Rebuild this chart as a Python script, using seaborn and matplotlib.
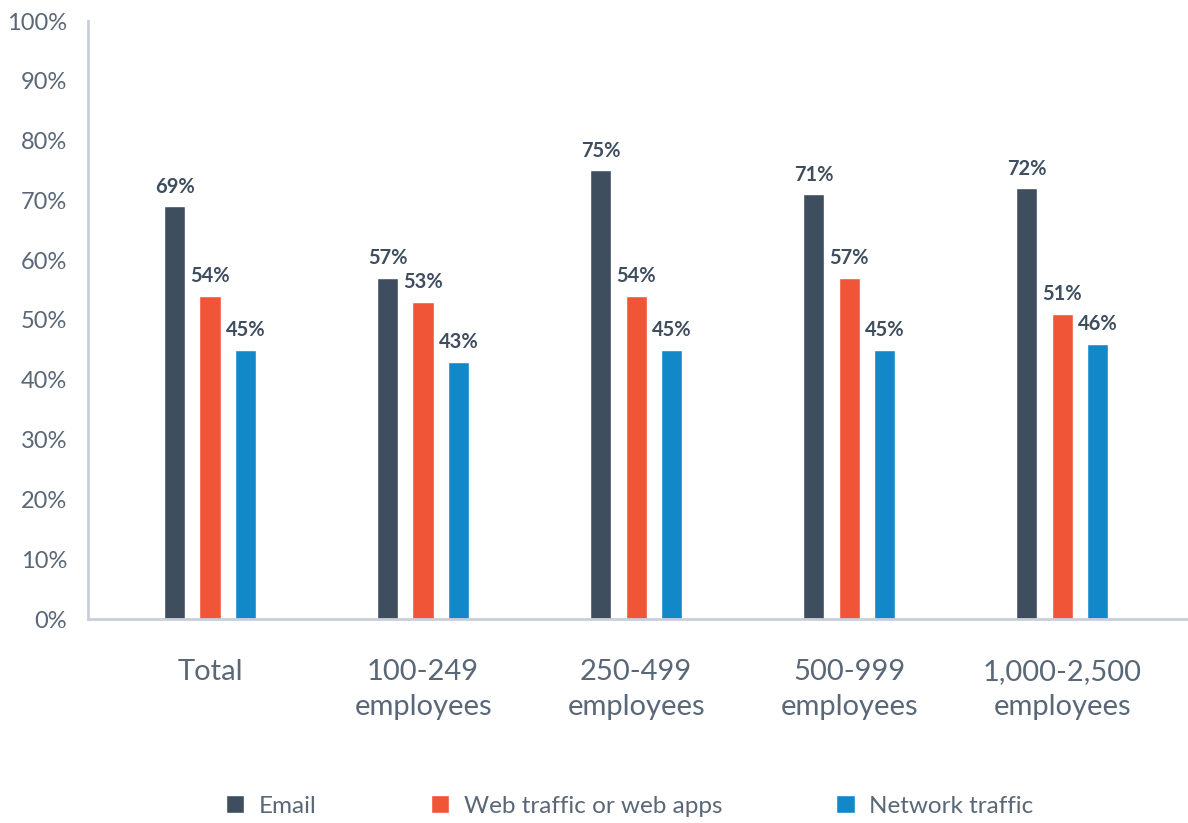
import matplotlib
matplotlib.use("Agg")
import matplotlib.pyplot as plt
import pandas as pd
import seaborn as sns

# Share of organisations per channel, by company size
categories = ["Total", "100-249\nemployees", "250-499\nemployees",
              "500-999\nemployees", "1,000-2,500\nemployees"]
series_names = ["Email", "Web traffic or web apps", "Network traffic"]
email = [69, 57, 75, 71, 72]
web = [54, 53, 54, 57, 51]
network = [45, 43, 45, 45, 46]
y_ticks = [0, 10, 20, 30, 40, 50, 60, 70, 80, 90, 100]

colors = ["#3f4e5e", "#f15537", "#1288c9"]
axis_color = "#c9cfd9"
text_color = "#5a6777"

sns.set_theme(style="white")
plt.rcParams["font.family"] = ["Lato", "DejaVu Sans"]

df = pd.DataFrame({
    "category": categories * 3,
    "series": [s for s in series_names for _ in categories],
    "value": email + web + network,
})

fig = plt.figure(figsize=(11.88, 8.23), dpi=100)
ax = fig.add_axes([88 / 1188, 204 / 823, 1 - 88 / 1188, 598 / 823])

sns.barplot(data=df, x="category", y="value", hue="series",
            order=categories, hue_order=series_names, palette=colors,
            width=0.50, gap=0.40, saturation=1, ax=ax, legend=True)

for cont in ax.containers:
    ax.bar_label(cont, fmt="%d%%", padding=7, fontsize=14.5, fontweight="bold",
                 color="#3f4e5e")

ax.set_ylim(0, 100)
ax.set_xlim(-0.573, 4.59)
ax.set_yticks(y_ticks)
ax.set_yticklabels([f"{t}%" for t in y_ticks])
ax.set_xlabel("")
ax.set_ylabel("")

for side in ["top", "right"]:
    ax.spines[side].set_visible(False)
for side in ["left", "bottom"]:
    ax.spines[side].set_color(axis_color)
    ax.spines[side].set_linewidth(2)

ax.tick_params(axis="y", direction="in", length=22, width=2, color=axis_color,
               labelsize=17, labelcolor=text_color, pad=15)
ax.tick_params(axis="x", length=0, labelsize=21, labelcolor=text_color, pad=29)
for lab in ax.get_xticklabels():
    lab.set_linespacing(1.4)

handles, labels = ax.get_legend_handles_labels()
ax.legend_.remove()
leg = fig.legend(handles, labels, loc="center", ncol=3,
                 bbox_to_anchor=(0.530, 0.021), frameon=False,
                 fontsize=17.5, handlelength=0.75, handleheight=0.8,
                 handletextpad=0.6, columnspacing=4.7)
for t in leg.get_texts():
    t.set_color(text_color)

fig.savefig("out.png", dpi=100)
